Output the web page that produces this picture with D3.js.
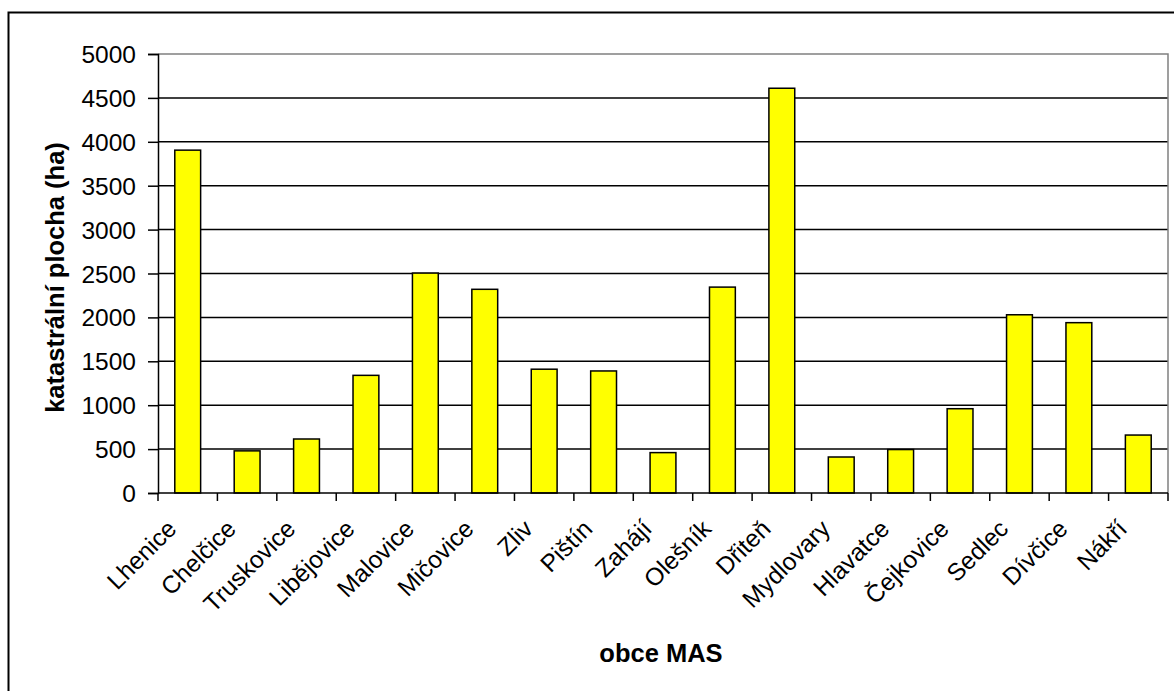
<!DOCTYPE html>
<html>
<head>
<meta charset="utf-8" />
<title>katastrální plocha obcí MAS</title>
<script src="https://d3js.org/d3.v7.min.js" charset="utf-8"></script>
<style>
    body { margin: 0; background: #fff; font-family: "Liberation Sans", Arial, sans-serif; }
    .tick text { font-size: 24.5px; fill: #000; }
    .title { font-weight: bold; }
</style>
</head>
<body>
<div id="graphic"></div>
<script>
// obce (categories) and their cadastral area in ha
var obce = ["Lhenice", "Chelčice", "Truskovice", "Libějovice", "Malovice", "Mičovice", "Zliv",
    "Pištín", "Zahájí", "Olešník", "Dřiteň", "Mydlovary", "Hlavatce", "Čejkovice", "Sedlec", "Dívčice", "Nákří"];
var plocha = [3905, 480, 615, 1340, 2505, 2320, 1410, 1390, 460, 2345, 4610, 410, 495, 960, 2030, 1940, 660];
var yTicks = [0, 500, 1000, 1500, 2000, 2500, 3000, 3500, 4000, 4500, 5000];

var W = 1174, H = 691;
var margin = {top: 54, right: 6, bottom: 198, left: 158};
var width = W - margin.left - margin.right,
    height = H - margin.top - margin.bottom;

var svg = d3.select("#graphic").append("svg")
    .attr("width", W)
    .attr("height", H);

// outer chart frame (clipped right and bottom like the original)
svg.append("rect")
    .attr("x", 8.5).attr("y", 12.5)
    .attr("width", W).attr("height", H)
    .attr("fill", "none").attr("stroke", "#000").attr("stroke-width", 2);

var g = svg.append("g")
    .attr("transform", "translate(" + margin.left + "," + margin.top + ")");

var x = d3.scaleBand()
    .domain(obce)
    .range([0, width])
    .paddingInner(0.565)
    .paddingOuter(0.2825);

var xb = d3.scaleBand().domain(obce).range([0, width]);

var y = d3.scaleLinear()
    .domain([0, 5000])
    .range([height, 0]);

// gridlines
g.selectAll(".grid")
    .data(yTicks.filter(function (d) { return d > 0 && d < 5000; }))
    .enter().append("line")
    .attr("x1", 0).attr("x2", width)
    .attr("y1", function (d) { return y(d); })
    .attr("y2", function (d) { return y(d); })
    .attr("stroke", "#000").attr("stroke-width", 1.5);

// plot area border (top and right, grey)
g.append("path")
    .attr("d", "M0," + y(5000) + "H" + width + "V" + height)
    .attr("fill", "none").attr("stroke", "#808080").attr("stroke-width", 1.5);

// bars
g.selectAll(".bar")
    .data(plocha)
    .enter().append("rect")
    .attr("class", "bar")
    .attr("x", function (d, i) { return x(obce[i]); })
    .attr("width", x.bandwidth())
    .attr("y", function (d) { return y(d); })
    .attr("height", function (d) { return height - y(d); })
    .attr("fill", "#ffff00")
    .attr("stroke", "#000").attr("stroke-width", 1.5);

// y axis
var yAxis = d3.axisLeft(y).tickValues(yTicks).tickFormat(d3.format("d")).tickSize(10).tickPadding(12);
var gy = g.append("g").attr("class", "y axis").call(yAxis);
gy.select(".domain").attr("stroke", "#000").attr("stroke-width", 1.5);
gy.selectAll(".tick line").attr("stroke", "#000").attr("stroke-width", 1.5);
gy.selectAll(".tick text").attr("dy", "0.35em");

// x axis: ticks sit on the category boundaries
var gx = g.append("g").attr("class", "x axis")
    .attr("transform", "translate(0," + height + ")");
gx.append("line")
    .attr("x1", 0).attr("x2", width)
    .attr("stroke", "#000").attr("stroke-width", 1.5);
gx.selectAll(".xt")
    .data(obce.concat(["end"]))
    .enter().append("line")
    .attr("x1", function (d, i) { return i < obce.length ? xb(d) : width; })
    .attr("x2", function (d, i) { return i < obce.length ? xb(d) : width; })
    .attr("y1", 0).attr("y2", 8)
    .attr("stroke", "#000").attr("stroke-width", 1.5);

gx.selectAll(".xl")
    .data(obce)
    .enter().append("text")
    .attr("font-size", 24.5)
    .attr("text-anchor", "end")
    .attr("transform", function (d) {
        return "translate(" + (xb(d) + xb.bandwidth() / 2 - 22) + ",25) rotate(-45)";
    })
    .attr("dy", "0.71em")
    .text(function (d) { return d; });

// axis titles
svg.append("text")
    .attr("class", "title")
    .attr("font-size", 25.5)
    .attr("x", 661).attr("y", 662)
    .attr("text-anchor", "middle")
    .text("obce MAS");

svg.append("text")
    .attr("class", "title")
    .attr("font-size", 25.5)
    .attr("transform", "translate(64,277.5) rotate(-90)")
    .attr("text-anchor", "middle")
    .text("katastrální plocha (ha)");
</script>
</body>
</html>
